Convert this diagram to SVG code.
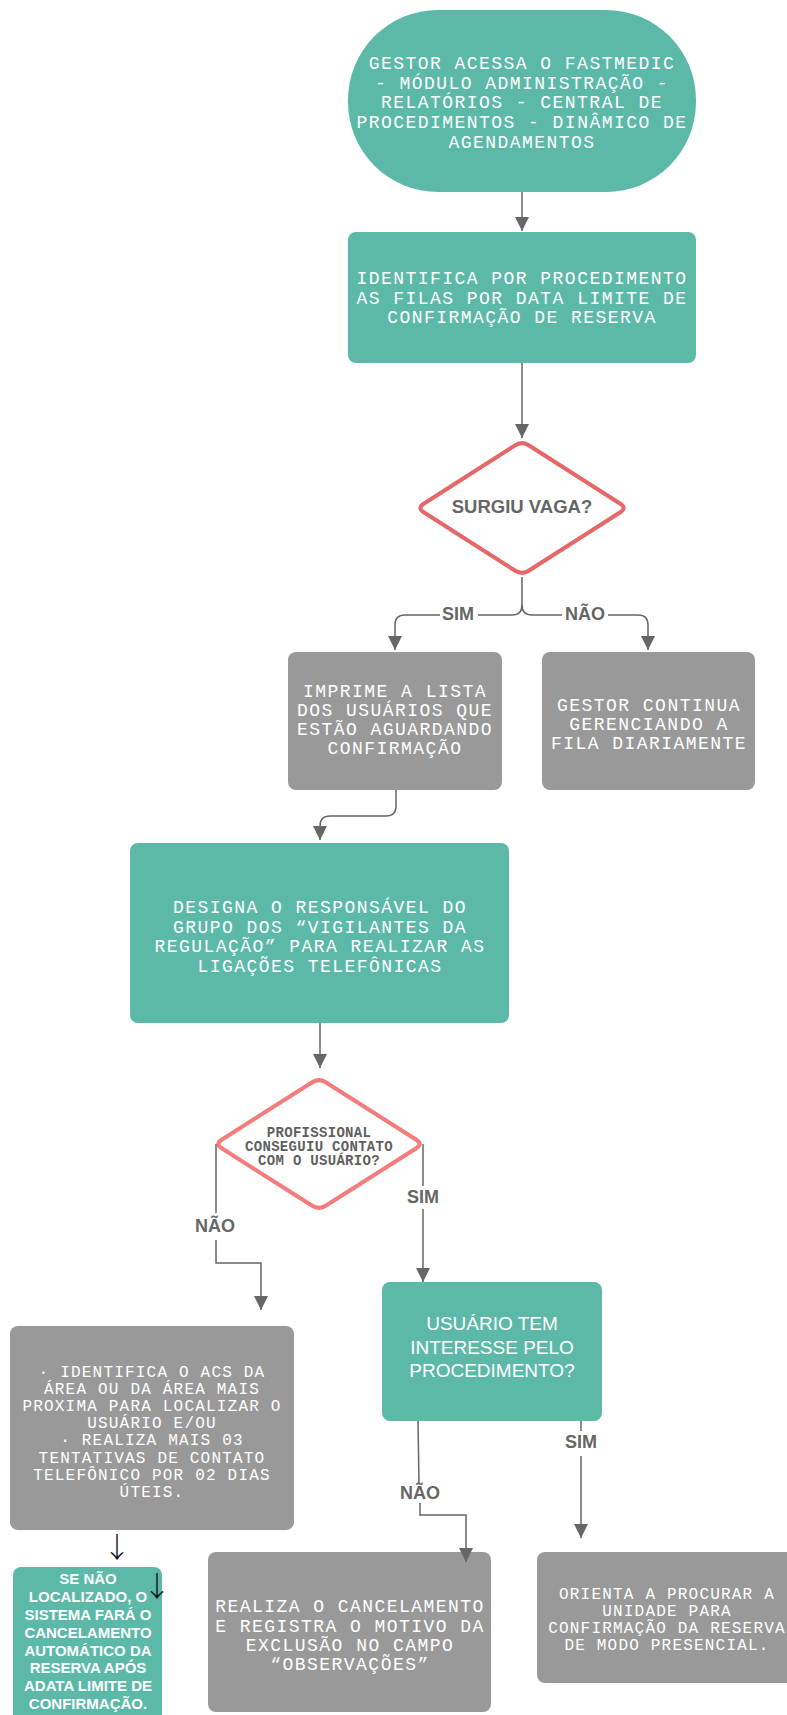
<svg xmlns="http://www.w3.org/2000/svg" width="787" height="1715" viewBox="0 0 787 1715">
<defs>
<style>
.teal{fill:#5CB9A8}
.grey{fill:#999999}
.mono{font-family:"Liberation Mono","DejaVu Sans Mono",monospace;fill:#ffffff;text-anchor:middle}
.m18{font-size:18px;letter-spacing:1.45px}
.m16{font-size:16px;letter-spacing:1.2px}
.dtxt{font-family:"Liberation Mono","DejaVu Sans Mono",monospace;font-weight:bold;font-size:14px;letter-spacing:0.3px;fill:#5f5f5f;text-anchor:middle}
.sans{font-family:"Liberation Sans",Arial,sans-serif;text-anchor:middle}
.lbl{font-family:"Liberation Sans",Arial,sans-serif;font-weight:bold;font-size:18px;fill:#666666;text-anchor:middle}
.conn{fill:none;stroke:#666666;stroke-width:1.5}
.thin{font-family:"Noto Sans CJK SC","DejaVu Sans",sans-serif;font-weight:300;font-size:28px;fill:#111111;text-anchor:middle}
</style>
<marker id="ah" markerUnits="userSpaceOnUse" markerWidth="14" markerHeight="16" refX="14" refY="7" orient="auto">
<path d="M0,0 L14,7 L0,14 Z" fill="#666666"/>
</marker>
</defs>
<rect width="787" height="1715" fill="#ffffff"/>

<g id="start">
<rect class="teal" x="348" y="10" width="348" height="182" rx="90" ry="90"/>
<text class="mono m18" x="522" y="69">GESTOR ACESSA O FASTMEDIC</text>
<text class="mono m18" x="522" y="89">- MÓDULO ADMINISTRAÇÃO -</text>
<text class="mono m18" x="522" y="108">RELATÓRIOS - CENTRAL DE</text>
<text class="mono m18" x="522" y="128">PROCEDIMENTOS - DINÂMICO DE</text>
<text class="mono m18" x="522" y="148">AGENDAMENTOS</text>
</g>

<g id="identifica">
<rect class="teal" x="348" y="232" width="348" height="131" rx="8"/>
<text class="mono m18" x="522" y="284">IDENTIFICA POR PROCEDIMENTO</text>
<text class="mono m18" x="522" y="303.5">AS FILAS POR DATA LIMITE DE</text>
<text class="mono m18" x="522" y="323">CONFIRMAÇÃO DE RESERVA</text>
</g>

<g id="surgiu">
<path d="M515.3,445.3 Q522,441 528.7,445.3 L620.3,503.7 Q627,508 620.3,512.3 L528.7,570.7 Q522,575 515.3,570.7 L423.7,512.3 Q417,508 423.7,503.7 Z" fill="#ffffff" stroke="#E56767" stroke-width="4"/>
<text class="sans" x="522" y="513" font-weight="bold" font-size="18.5" fill="#666666">SURGIU VAGA?</text>
</g>

<g id="imprime">
<rect class="grey" x="288" y="652" width="214" height="138" rx="8"/>
<text class="mono m18" x="395" y="697">IMPRIME A LISTA</text>
<text class="mono m18" x="395" y="716">DOS USUÁRIOS QUE</text>
<text class="mono m18" x="395" y="735">ESTÃO AGUARDANDO</text>
<text class="mono m18" x="395" y="754">CONFIRMAÇÃO</text>
</g>

<g id="continua">
<rect class="grey" x="542" y="652" width="213" height="138" rx="8"/>
<text class="mono m18" x="649" y="711">GESTOR CONTINUA</text>
<text class="mono m18" x="649" y="730">GERENCIANDO A</text>
<text class="mono m18" x="649" y="749">FILA DIARIAMENTE</text>
</g>

<g id="designa">
<rect class="teal" x="130" y="843" width="379" height="180" rx="8"/>
<text class="mono m18" x="320" y="913">DESIGNA O RESPONSÁVEL DO</text>
<text class="mono m18" x="320" y="932.5">GRUPO DOS “VIGILANTES DA</text>
<text class="mono m18" x="320" y="952">REGULAÇÃO” PARA REALIZAR AS</text>
<text class="mono m18" x="320" y="971.5">LIGAÇÕES TELEFÔNICAS</text>
</g>

<g id="profissional">
<path d="M312.3,1082.3 Q319,1078 325.7,1082.3 L416.3,1139.7 Q423,1144 416.3,1148.3 L325.7,1205.7 Q319,1210 312.3,1205.7 L221.7,1148.3 Q215,1144 221.7,1139.7 Z" fill="#ffffff" stroke="#F47C7C" stroke-width="4"/>
<text class="dtxt" x="319" y="1137">PROFISSIONAL</text>
<text class="dtxt" x="319" y="1151">CONSEGUIU CONTATO</text>
<text class="dtxt" x="319" y="1165">COM O USUÁRIO?</text>
</g>

<g id="acs">
<rect class="grey" x="10" y="1326" width="284" height="204" rx="8"/>
<text class="mono m16" x="152" y="1377">· IDENTIFICA O ACS DA</text>
<text class="mono m16" x="152" y="1394">ÁREA OU DA ÁREA MAIS</text>
<text class="mono m16" x="152" y="1411">PROXIMA PARA LOCALIZAR O</text>
<text class="mono m16" x="152" y="1428">USUÁRIO E/OU</text>
<text class="mono m16" x="152" y="1445">· REALIZA MAIS 03</text>
<text class="mono m16" x="152" y="1462.5">TENTATIVAS DE CONTATO</text>
<text class="mono m16" x="152" y="1480">TELEFÔNICO POR 02 DIAS</text>
<text class="mono m16" x="152" y="1497">ÚTEIS.</text>
</g>

<g id="interesse">
<rect class="teal" x="382" y="1282" width="220" height="139" rx="8"/>
<text class="sans" x="492" y="1330" font-size="19" fill="#ffffff">USUÁRIO TEM</text>
<text class="sans" x="492" y="1353.5" font-size="19" fill="#ffffff">INTERESSE PELO</text>
<text class="sans" x="492" y="1377" font-size="19" fill="#ffffff">PROCEDIMENTO?</text>
</g>

<g id="senao">
<rect class="teal" x="13" y="1567" width="149" height="160" rx="8"/>
<text class="sans" x="88" y="1584" font-weight="bold" font-size="15" fill="#ffffff">SE NÃO</text>
<text class="sans" x="88" y="1602" font-weight="bold" font-size="15" fill="#ffffff">LOCALIZADO, O</text>
<text class="sans" x="88" y="1620" font-weight="bold" font-size="15" fill="#ffffff">SISTEMA FARÁ O</text>
<text class="sans" x="88" y="1637.5" font-weight="bold" font-size="15" fill="#ffffff">CANCELAMENTO</text>
<text class="sans" x="88" y="1655.5" font-weight="bold" font-size="15" fill="#ffffff">AUTOMÁTICO DA</text>
<text class="sans" x="88" y="1673" font-weight="bold" font-size="15" fill="#ffffff">RESERVA APÓS</text>
<text class="sans" x="88" y="1691" font-weight="bold" font-size="15" fill="#ffffff">ADATA LIMITE DE</text>
<text class="sans" x="88" y="1709" font-weight="bold" font-size="15" fill="#ffffff">CONFIRMAÇÃO.</text>
</g>

<g id="realiza">
<rect class="grey" x="208" y="1552" width="283" height="160" rx="8"/>
<text class="mono m18" x="350" y="1612">REALIZA O CANCELAMENTO</text>
<text class="mono m18" x="350" y="1631.5">E REGISTRA O MOTIVO DA</text>
<text class="mono m18" x="350" y="1651">EXCLUSÃO NO CAMPO</text>
<text class="mono m18" x="350" y="1670">“OBSERVAÇÕES”</text>
</g>

<g id="orienta">
<rect class="grey" x="537" y="1552" width="262" height="131" rx="8"/>
<text class="mono m16" x="667" y="1599">ORIENTA A PROCURAR A</text>
<text class="mono m16" x="667" y="1616">UNIDADE PARA</text>
<text class="mono m16" x="667" y="1633">CONFIRMAÇÃO DA RESERVA</text>
<text class="mono m16" x="667" y="1650">DE MODO PRESENCIAL.</text>
</g>

<g id="connectors">
<path class="conn" d="M522,192 V231" marker-end="url(#ah)"/>
<path class="conn" d="M522,363 V438" marker-end="url(#ah)"/>
<path class="conn" d="M522,577 V605 Q522,615 512,615 H478"/>
<path class="conn" d="M440,615 H405 Q395,615 395,625 V650" marker-end="url(#ah)"/>
<path class="conn" d="M522,605 Q522,615 532,615 H562"/>
<path class="conn" d="M608,615 H638 Q648,615 648,625 V650" marker-end="url(#ah)"/>
<path class="conn" d="M396,790 V806 Q396,816 386,816 H330 Q320,816 320,826 V840" marker-end="url(#ah)"/>
<path class="conn" d="M320,1023 V1068" marker-end="url(#ah)"/>
<path class="conn" d="M216,1144 V1213"/>
<path class="conn" d="M216,1240 V1263 H261 V1310" marker-end="url(#ah)"/>
<path class="conn" d="M423,1144 V1186"/>
<path class="conn" d="M423,1209 V1282" marker-end="url(#ah)"/>
<path class="conn" d="M418,1421 L419,1483"/>
<path class="conn" d="M420,1503 V1515 H466 V1562" marker-end="url(#ah)"/>
<path class="conn" d="M581,1421 V1431"/>
<path class="conn" d="M581,1456 V1538" marker-end="url(#ah)"/>
<text class="lbl" x="458" y="620">SIM</text>
<text class="lbl" x="585" y="620">NÃO</text>
<text class="lbl" x="215" y="1232">NÃO</text>
<text class="lbl" x="423" y="1203">SIM</text>
<text class="lbl" x="581" y="1448">SIM</text>
<text class="lbl" x="420" y="1499">NÃO</text>
<text class="thin" x="117" y="1558">↓</text>
<text class="thin" x="157" y="1597">↓</text>
</g>
</svg>
